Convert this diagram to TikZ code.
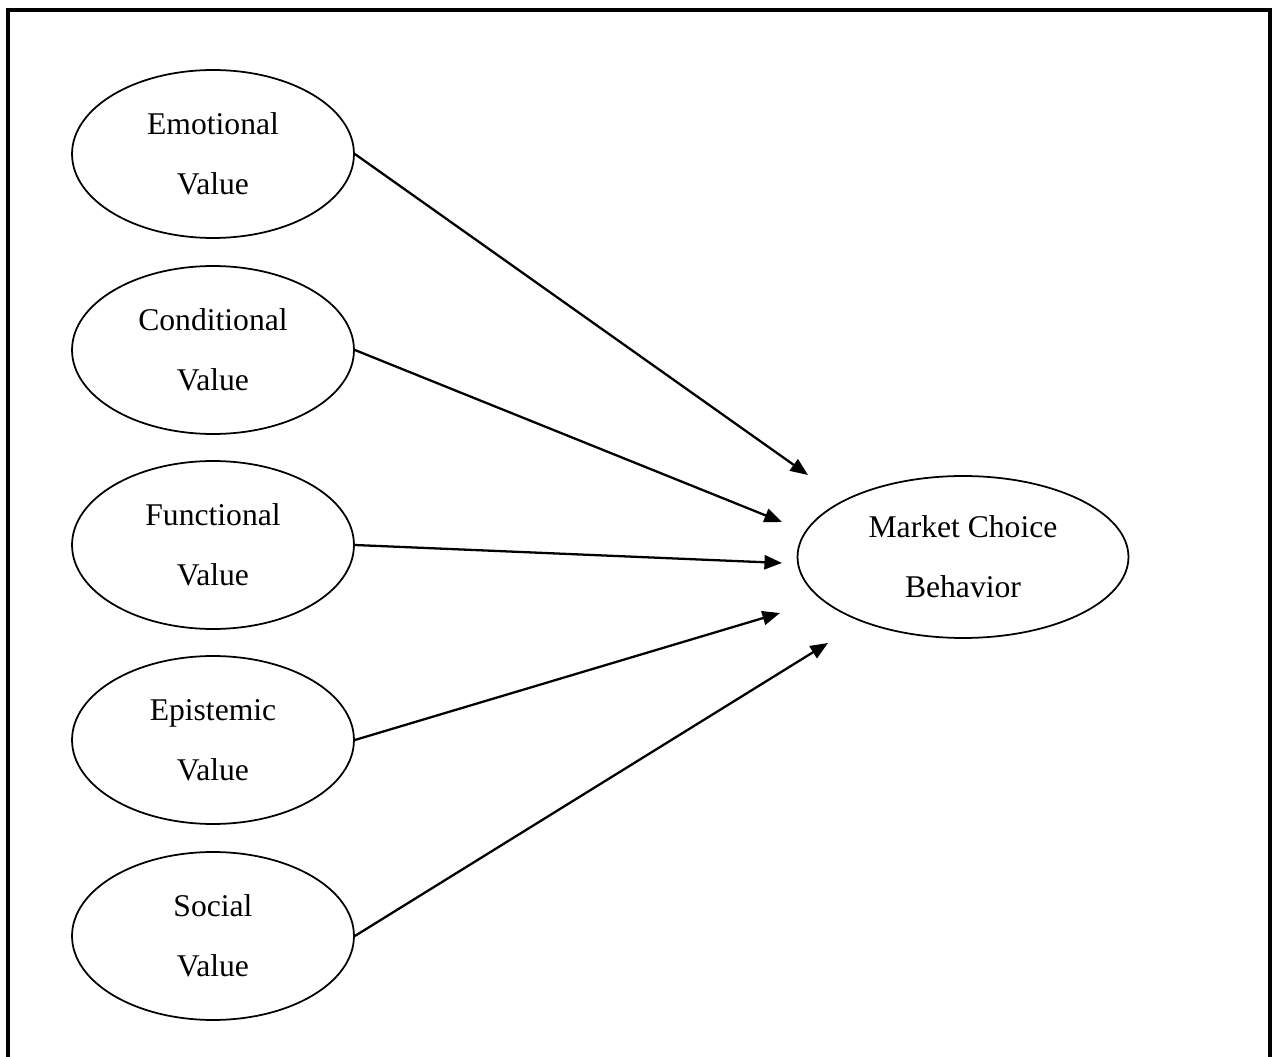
\documentclass[tikz,border=0pt]{standalone}
\usepackage{fontspec}
\setmainfont{Liberation Serif}
\usepackage{tikz}
\usetikzlibrary{arrows.meta,shapes.geometric,positioning}

\begin{document}
\begin{tikzpicture}[x=0.02cm,y=-0.02cm,
    valnode/.style={draw, ellipse, line width=1pt, inner sep=0pt,
      minimum width=5.64cm, minimum height=3.36cm, align=center,
      font=\fontsize{18}{34}\selectfont},
    link/.style={line width=1.3pt, -{Triangle[length=10pt,width=8pt]}}]
  % Consumption values model
  \useasboundingbox (0,0) rectangle (1276,1057);
  \draw[line width=1.8pt] (8,1057) -- (8,10) -- (1270,10) -- (1270,1057);

  \node[valnode] (emo) at (213,154) {Emotional\\Value};
  \node[valnode] (cond) at (213,350) {Conditional\\Value};
  \node[valnode] (func) at (213,545) {Functional\\Value};
  \node[valnode] (epis) at (213,740) {Epistemic\\Value};
  \node[valnode] (soc) at (213,936) {Social\\Value};

  \node[valnode, minimum width=6.62cm, minimum height=3.24cm] (mcb) at (963,557) {Market Choice\\Behavior};

  \coordinate (t1) at (808,475);
  \coordinate (t2) at (782,522);
  \coordinate (t3) at (782,563);
  \coordinate (t4) at (780,613);
  \coordinate (t5) at (828,643);

  \draw[link] (emo.east) -- (t1);
  \draw[link] (cond.east) -- (t2);
  \draw[link] (func.east) -- (t3);
  \draw[link] (epis.east) -- (t4);
  \draw[link] (soc.east) -- (t5);
\end{tikzpicture}
\end{document}
